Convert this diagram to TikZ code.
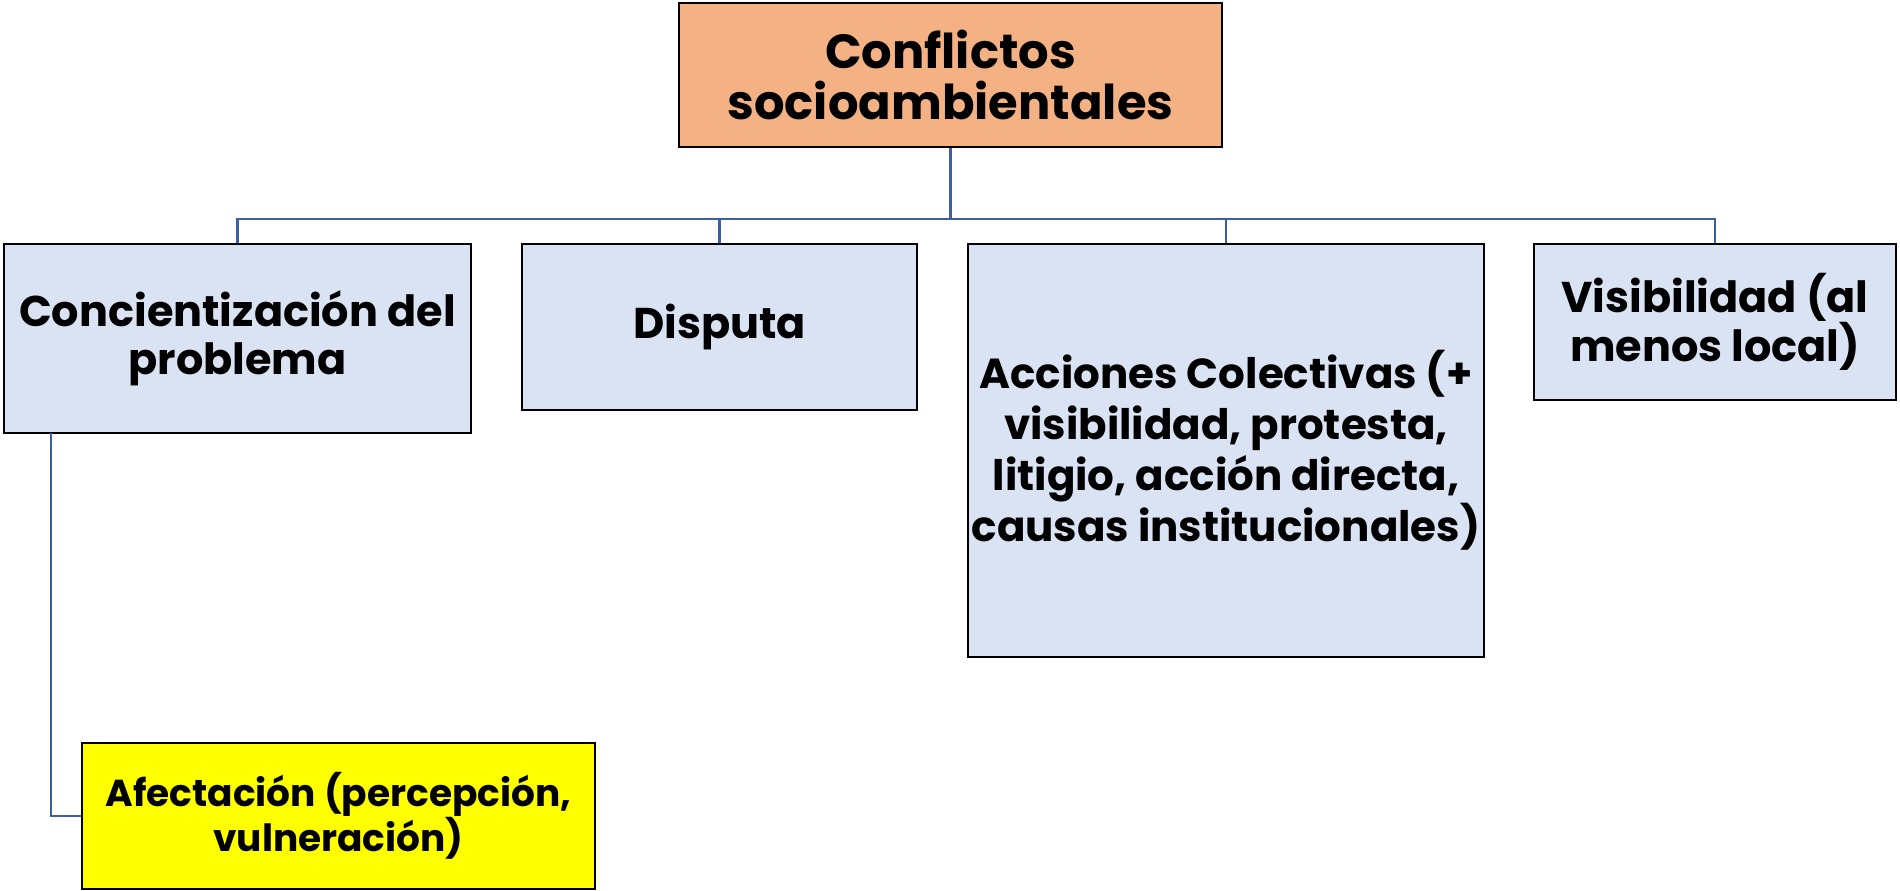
\documentclass[tikz,border=0pt]{standalone}
\usepackage{fontspec}
\setmainfont{Poppins}[BoldFont={* Bold}]
\definecolor{lblue}{HTML}{DAE3F3}
\definecolor{orng}{HTML}{F4B183}
\definecolor{yel}{HTML}{FFFF00}
\definecolor{lineblue}{HTML}{3B5EA6}
\begin{document}
\begin{tikzpicture}[x=1pt,y=-1pt,
  box/.style={draw=black,line width=2.2pt,rectangle,inner sep=0pt,align=center,font=\bfseries\fontsize{43}{48}\selectfont},
  conn/.style={draw=lineblue,line width=2.4pt}]
\useasboundingbox (0,0) rectangle (1900,891);
\node[box,fill=orng,minimum width=543pt,minimum height=144pt,font=\bfseries\fontsize{48}{51}\selectfont] (top) at (950.5,75) {Conflictos\\socioambientales};
\node[box,fill=lblue,minimum width=467pt,minimum height=189pt] (b1) at (237.5,338.5) {Concientización del\\problema};
\node[box,fill=lblue,minimum width=395pt,minimum height=166pt] (b2) at (719.5,327) {Disputa};
\node[box,fill=lblue,minimum width=516pt,minimum height=413pt,font=\bfseries\fontsize{42}{51}\selectfont] (b3) at (1226,450.5) {Acciones Colectivas (+\\visibilidad, protesta,\\litigio, acción directa,\\causas institucionales)};
\node[box,fill=lblue,minimum width=362pt,minimum height=156pt] (b4) at (1715,322) {Visibilidad (al\\menos local)};
\node[box,fill=yel,minimum width=513pt,minimum height=146pt,font=\bfseries\fontsize{37.5}{40}\selectfont] (yel) at (338.5,816) {Afectación (percepción,\\vulneración)};
\coordinate (bus) at (950.5,219);
\coordinate (lft) at (51,433);
\draw[conn] (top.south) -- (bus);
\draw[conn] (b1.north) |- (bus);
\draw[conn] (b2.north) |- (bus);
\draw[conn] (b3.north) |- (bus);
\draw[conn] (b4.north) |- (bus);
\draw[conn] (lft) |- (yel.west);
\end{tikzpicture}
\end{document}
